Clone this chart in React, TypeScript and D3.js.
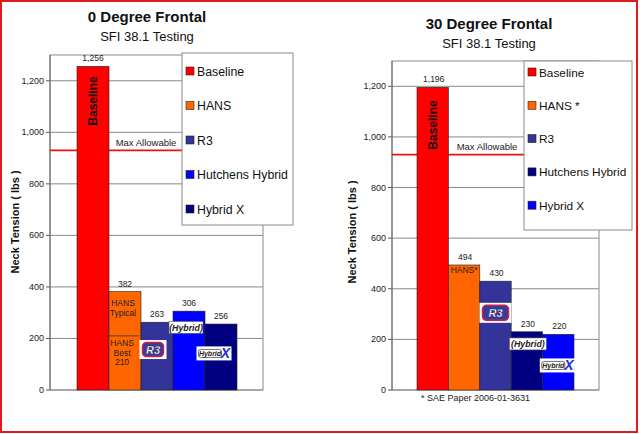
import React from 'react';
import * as d3 from 'd3';

// series shown in each panel, left to right
const seriesLeft = ['Baseline', 'HANS', 'R3', 'Hutchens Hybrid', 'Hybrid X'];
const seriesRight = ['Baseline', 'HANS *', 'R3', 'Hutchens Hybrid', 'Hybrid X'];
const valuesLeft = [1256, 382, 263, 306, 256];
const valuesRight = [1196, 494, 430, 230, 220];
const colorsLeft = ['#ff0000', '#ff6600', '#333399', '#0000ff', '#000080'];
const colorsRight = ['#ff0000', '#ff6600', '#333399', '#000080', '#0000ff'];
const yTicks = [0, 200, 400, 600, 800, 1000, 1200];
const maxAllowable = 930;
const hansBest = 210;
// logo anchor levels (value of logo centre) for R3, Hybrid, HybridX bars
const logoLevelsLeft = [157, 243, 142];
const logoLevelsRight = [305, 182, 97];

const FONT = '"Liberation Sans", Arial, sans-serif';
const fmt = d3.format(',');

type PanelProps = {
  title: string;
  titleY: number;
  titleX: number;
  series: string[];
  values: number[];
  colors: string[];
  logoLevels: number[];
  plot: { left: number; right: number; top: number; bottom: number };
  bars: [number, number];
  legend: { x: number; y: number; w: number; h: number; first: number; step: number; font: number };
  axisTitleX: number;
  axisTitleY: number;
  maxLabelY: number;
  maxLabelX: number;
  baselineLabelY: number;
  left: boolean;
};

const R3Logo = ({ cx, cy, w, h }) => (
  <g transform={`translate(${cx - w / 2},${cy - h / 2})`}>
    <rect width={w} height={h} fill="#fff" />
    <rect x={3} y={2.5} width={w - 6} height={h - 5} rx={4} fill="#3a3a9a" stroke="#cc2244" strokeWidth={1.5} />
    <text x={w / 2} y={h / 2 + 4} textAnchor="middle" fontFamily={FONT} fontStyle="italic" fontWeight="bold" fontSize={11} fill="#fff" stroke="#223" strokeWidth={0.3}>R3</text>
  </g>
);

const HybridLogo = ({ cx, cy, w, h }) => (
  <g transform={`translate(${cx - w / 2},${cy - h / 2})`}>
    <rect width={w} height={h} fill="#fff" stroke="#555" strokeWidth={0.6} />
    <text x={w / 2} y={h / 2 + 3.3} textAnchor="middle" fontFamily={FONT} fontStyle="italic" fontWeight="bold" fontSize={8.8} fill="#222">(Hybrid)</text>
  </g>
);

const HybridXLogo = ({ cx, cy, w, h }) => (
  <g transform={`translate(${cx - w / 2},${cy - h / 2})`}>
    <rect width={w} height={h} fill="#fff" />
    <rect x={2} y={3} width={w - 12} height={h - 6} rx={2} fill="#fff" stroke="#333" strokeWidth={0.7} />
    <text x={(w - 10) / 2 + 1} y={h / 2 + 2.5} textAnchor="middle" fontFamily={FONT} fontStyle="italic" fontWeight="bold" fontSize={7} fill="#222">Hybrid</text>
    <text x={w - 6} y={h / 2 + 5} textAnchor="middle" fontFamily={FONT} fontStyle="italic" fontWeight="bold" fontSize={14} fill="#2233cc">X</text>
  </g>
);

const Panel = (p: PanelProps) => {
  const y = d3.scaleLinear().domain([0, 1300]).range([p.plot.bottom, p.plot.top]);
  const x = d3.scaleBand().domain(p.series).range(p.bars).padding(0);
  const bw = x.bandwidth();
  const cx = (i: number) => (x(p.series[i]) as number) + bw / 2;
  const lg = p.legend;

  return (
    <g fontFamily={FONT}>
      <text x={p.titleX} y={p.titleY} textAnchor="middle" fontSize={15} fontWeight="bold" fill="#111">{p.title}</text>
      <text x={p.titleX} y={p.titleY + 19} textAnchor="middle" fontSize={13} fill="#111">SFI 38.1 Testing</text>

      {/* gridlines and ticks */}
      {yTicks.map(t => (
        <g key={t}>
          <line x1={p.plot.left} x2={p.plot.right} y1={y(t)} y2={y(t)} stroke="#8a8a8a" strokeWidth={1} />
          <line x1={p.plot.left - 4} x2={p.plot.left} y1={y(t)} y2={y(t)} stroke="#555" strokeWidth={1} />
          <text x={p.plot.left - 6} y={y(t) + 3} textAnchor="end" fontSize={9} fill="#222">{fmt(t)}</text>
        </g>
      ))}
      <rect x={p.plot.left} y={p.plot.top} width={p.plot.right - p.plot.left} height={p.plot.bottom - p.plot.top} fill="none" stroke="#8a8a8a" strokeWidth={1} />
      <line x1={p.plot.left} x2={p.plot.left} y1={p.plot.top} y2={p.plot.bottom} stroke="#666" />

      <text transform={`translate(${p.axisTitleX},${p.axisTitleY}) rotate(-90)`} textAnchor="middle" fontSize={11} fontWeight="bold" fill="#111">Neck Tension ( lbs )</text>

      {/* max allowable */}
      <line x1={p.plot.left} x2={p.plot.right} y1={y(maxAllowable)} y2={y(maxAllowable)} stroke="#ee1111" strokeWidth={1.6} />
      <text x={p.maxLabelX} y={p.maxLabelY} textAnchor="middle" fontSize={9.5} fill="#222">Max Allowable</text>

      {/* bars */}
      {p.values.map((v, i) => (
        <rect key={i} x={x(p.series[i])} y={y(v)} width={bw} height={y(0) - y(v)} fill={p.colors[i]} stroke="#222" strokeWidth={0.6} />
      ))}
      {p.values.map((v, i) => (
        <text key={i} x={cx(i) + (p.left ? 0 : 1)} y={y(v) - 5} textAnchor="middle" fontSize={8.5} fill="#222">{fmt(v)}</text>
      ))}

      <text transform={`translate(${cx(0) + 4},${p.baselineLabelY}) rotate(-90)`} textAnchor="middle" fontSize={12} fontWeight="bold" fill="#111">Baseline</text>

      {p.left ? (
        <g fontSize={8.5} fill="#222" textAnchor="middle">
          <text x={cx(1) - 2} y={y(p.values[1]) + 14}>HANS</text>
          <text x={cx(1) - 2} y={y(p.values[1]) + 24}>Typical</text>
          <line x1={x(p.series[1])! - 2} x2={x(p.series[1])! + bw - 2} y1={y(hansBest)} y2={y(hansBest)} stroke="#333" strokeWidth={0.8} />
          <text x={cx(1) - 3} y={y(hansBest) + 10}>HANS</text>
          <text x={cx(1) - 3} y={y(hansBest) + 20}>Best</text>
          <text x={cx(1) - 3} y={y(hansBest) + 29}>210</text>
        </g>
      ) : (
        <text x={cx(1)} y={y(p.values[1]) + 8} textAnchor="middle" fontSize={8.5} fill="#222">HANS*</text>
      )}

      <R3Logo cx={cx(2) - (p.left ? 4 : 0)} cy={y(p.logoLevels[0])} w={p.left ? 27 : 32} h={p.left ? 19 : 20} />
      <HybridLogo cx={p.left ? cx(3) - 3 : cx(3) + 1} cy={y(p.logoLevels[1])} w={p.left ? 34 : 37} h={12} />
      <HybridXLogo cx={p.left ? cx(4) - 7 : cx(4) - 1} cy={y(p.logoLevels[2])} w={35} h={14} />

      {/* legend */}
      <rect x={lg.x} y={lg.y} width={lg.w} height={lg.h} fill="#fff" stroke="#8a8a8a" strokeWidth={1} />
      {p.series.map((s, i) => (
        <g key={s} transform={`translate(${lg.x + 4},${lg.y + lg.first + i * lg.step})`}>
          <rect x={0} y={-4} width={8} height={8} fill={p.colors[i]} stroke="#222" strokeWidth={0.6} />
          <text x={11} y={4.5} fontSize={lg.font} fill="#111">{s}</text>
        </g>
      ))}
    </g>
  );
};

export default function App() {
  return (
    <svg width={640} height={434} style={{ position: 'absolute', left: 0, top: 0, background: '#fff' }}>
      <rect x={1} y={1} width={636} height={431} fill="#fff" stroke="#e01b1b" strokeWidth={2} />
      <Panel
        title="0 Degree Frontal" titleX={147} titleY={22}
        series={seriesLeft} values={valuesLeft} colors={colorsLeft} logoLevels={logoLevelsLeft}
        plot={{ left: 50, right: 263, top: 55, bottom: 390 }} bars={[77, 237]}
        legend={{ x: 182, y: 53, w: 111, h: 172, first: 18, step: 34.5, font: 12.3 }}
        axisTitleX={19} axisTitleY={222}
        maxLabelX={146} maxLabelY={146} baselineLabelY={101} left
      />
      <Panel
        title="30 Degree Frontal" titleX={489} titleY={29}
        series={seriesRight} values={valuesRight} colors={colorsRight} logoLevels={logoLevelsRight}
        plot={{ left: 392, right: 599, top: 61, bottom: 390 }} bars={[417, 574]}
        legend={{ x: 524, y: 61, w: 108, h: 169, first: 11, step: 33.3, font: 11.8 }}
        axisTitleX={356} axisTitleY={232}
        maxLabelX={487} maxLabelY={150} baselineLabelY={125} left={false}
      />
      <text x={421} y={401} fontFamily={FONT} fontSize={9} fill="#222">* SAE Paper 2006-01-3631</text>
    </svg>
  );
}
